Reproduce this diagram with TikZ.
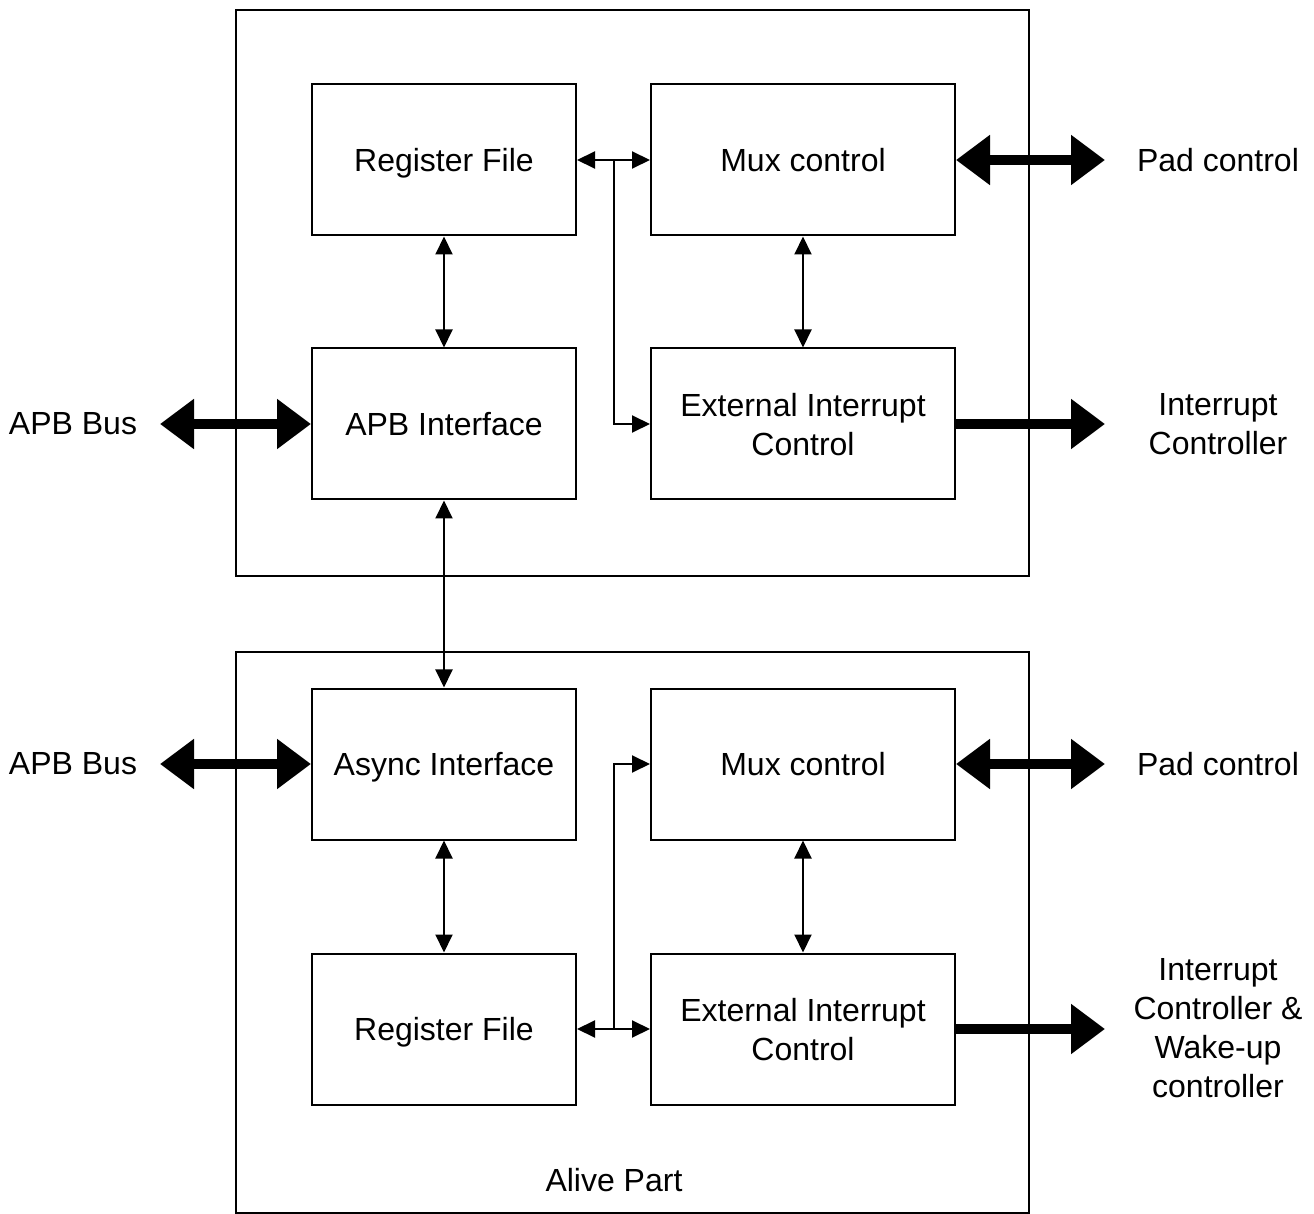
\documentclass[tikz,border=0pt]{standalone}
\usepackage{fontspec}
\setmainfont{Liberation Sans}
\usetikzlibrary{arrows.meta}
\tikzset{
  block/.style={draw, line width=1pt, minimum width=132pt, minimum height=75.5pt,
    inner sep=0pt, text depth=0pt, align=center, font=\fontsize{16}{19.5}\selectfont},
  wideblock/.style={block, minimum width=152pt},
  frame/.style={draw, line width=1pt, minimum width=396.5pt, inner sep=0pt},
  txt/.style={align=center, font=\fontsize{16}{19.5}\selectfont},
  link/.style={line width=1pt, >={Triangle[length=9pt,width=8.5pt]}},
  bus/.style={line width=5pt, >={Triangle[length=17pt,width=24pt]}}
}
\begin{document}
\begin{tikzpicture}[x=0.5pt, y=-0.5pt]
    \useasboundingbox (0,0) rectangle (1314,1214);
    % top part
    \node[frame, minimum height=283pt] (top) at (632.5,293) {};
    \node[block] (rf1) at (444,160) {Register File};
    \node[wideblock] (mux1) at (803,160) {Mux control};
    \node[block] (apb1) at (444,424) {APB Interface};
    \node[wideblock] (ext1) at (803,424) {External Interrupt\\Control};
    % alive part
    \node[frame, minimum height=280.5pt] (bot) at (632.5,932.5) {};
    \node[block] (async) at (444,764) {Async Interface};
    \node[wideblock] (mux2) at (803,764) {Mux control};
    \node[block] (rf2) at (444,1029) {Register File};
    \node[wideblock] (ext2) at (803,1029) {External Interrupt\\Control};
    \node[txt] (alive) at (614,1180) {Alive Part};
    % outside labels
    \node[txt] (bus1) at (73,424) {APB Bus};
    \node[txt] (bus2) at (73,764) {APB Bus};
    \node[txt] (pad1) at (1218,160) {Pad control};
    \node[txt] (pad2) at (1218,764) {Pad control};
    \node[txt] (irq1) at (1218,424) {Interrupt\\Controller};
    \node[txt] (irq2) at (1218,1028) {Interrupt\\Controller \&\\Wake-up\\controller};
    \coordinate (b1) at (160,424);
    \coordinate (b2) at (160,764);
    \coordinate (p1) at (1105,160);
    \coordinate (p2) at (1105,764);
    \coordinate (i1) at (1105,424);
    \coordinate (i2) at (1105,1029);
    \coordinate (j1) at (614,160);
    \coordinate (j2) at (614,1029);
    % thin links
    \draw[link,<->] (rf1) -- (apb1);
    \draw[link,<->] (rf1) -- (mux1);
    \draw[link,->] (j1) |- (ext1.west);
    \draw[link,<->] (mux1) -- (ext1);
    \draw[link,<->] (apb1) -- (async);
    \draw[link,<->] (async) -- (rf2);
    \draw[link,<->] (rf2) -- (ext2);
    \draw[link,->] (j2) |- (mux2.west);
    \draw[link,<->] (mux2) -- (ext2);
    % buses
    \draw[bus,<->] (b1) -- (apb1);
    \draw[bus,<->] (b2) -- (async);
    \draw[bus,<->] (mux1) -- (p1);
    \draw[bus,<->] (mux2) -- (p2);
    \draw[bus,->] (ext1) -- (i1);
    \draw[bus,->] (ext2) -- (i2);
\end{tikzpicture}
\end{document}
